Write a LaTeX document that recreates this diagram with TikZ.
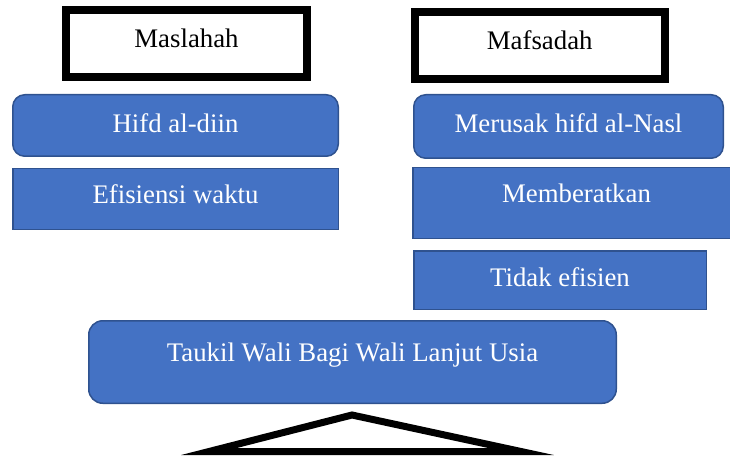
\documentclass[tikz,border=0pt]{standalone}
\usepackage{fontspec}
\setmainfont{Liberation Serif}
\definecolor{boxblue}{HTML}{4472C4}
\definecolor{boxedge}{HTML}{2F528F}
\begin{document}
\begin{tikzpicture}[x=1pt,y=-1pt,
  head/.style={draw=black,line width=8pt,fill=white,rectangle,inner sep=0pt},
  bluebox/.style={draw=boxedge,line width=1.5pt,fill=boxblue,rectangle,inner sep=0pt},
  roundbox/.style={bluebox,rounded corners=12pt},
  lbl/.style={anchor=base,text=white,font=\fontsize{26.8}{30}\selectfont,inner sep=0pt},
  hlbl/.style={lbl,text=black}]
\useasboundingbox (0,0) rectangle (730,457);
% header boxes
\node[head,minimum width=241pt,minimum height=67pt] (mas) at (186.5,43.5) {};
\node[hlbl] (mastxt) at (186.5,48) {Maslahah};
\node[head,minimum width=249.5pt,minimum height=67pt] (maf) at (539.75,45.5) {};
\node[hlbl] (maftxt) at (539.75,50) {Mafsadah};
% left column
\node[roundbox,minimum width=325.5pt,minimum height=61.5pt] (hifd) at (175.5,125.5) {};
\node[lbl] (hifdtxt) at (175.5,133) {Hifd al-diin};
\node[bluebox,minimum width=325.5pt,minimum height=60.5pt] (efi) at (175.5,199) {};
\node[lbl] (efitxt) at (175.5,203) {Efisiensi waktu};
% right column
\node[roundbox,minimum width=309.5pt,minimum height=63.5pt] (mer) at (568.5,126.5) {};
\node[lbl] (mertxt) at (568.5,133) {Merusak hifd al-Nasl};
\node[bluebox,minimum width=328pt,minimum height=70.5pt] (mem) at (577,203) {};
\node[lbl] (memtxt) at (576.5,202) {Memberatkan};
\node[bluebox,minimum width=292.5pt,minimum height=58.5pt] (tid) at (560,280) {};
\node[lbl] (tidtxt) at (560,286) {Tidak efisien};
% bottom
\node[bluebox,rounded corners=14pt,minimum width=527.5pt,minimum height=82.5pt] (tau) at (352.5,362) {};
\node[lbl] (tautxt) at (352.5,361) {Taukil Wali Bagi Wali Lanjut Usia};
% fulcrum triangle
\draw[line width=7pt,line join=miter,fill=white] (352,415) -- (209,451.5) -- (521,451.5) -- cycle;
\end{tikzpicture}
\end{document}
